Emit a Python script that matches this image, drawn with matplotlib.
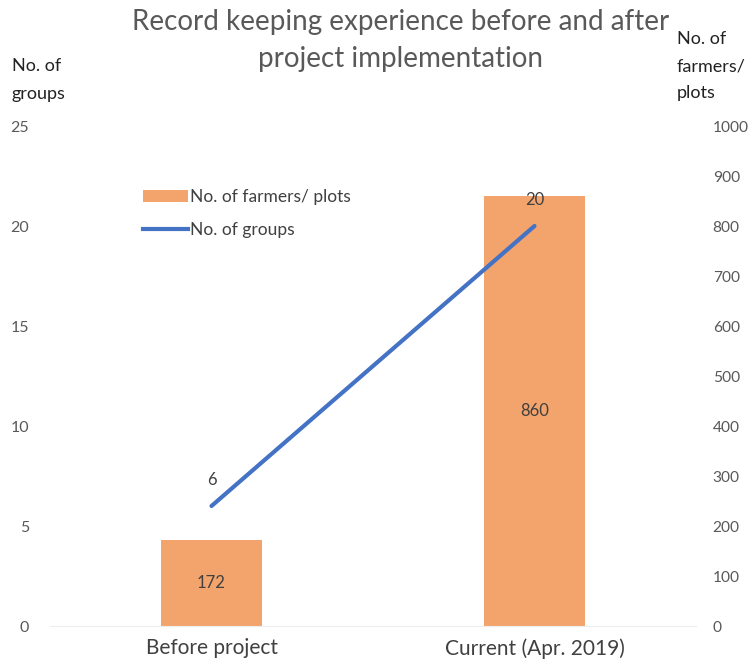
import matplotlib
matplotlib.use("Agg")
import matplotlib.pyplot as plt
from matplotlib.lines import Line2D
from matplotlib.patches import Patch

categories = ["Before project", "Current (Apr. 2019)"]
farmers_plots = [172, 860]
groups = [6, 20]
left_ticks = [0, 5, 10, 15, 20, 25]
right_ticks = [0, 100, 200, 300, 400, 500, 600, 700, 800, 900, 1000]

plt.rcParams['font.family'] = ['Lato', 'DejaVu Sans']
txt = '#595959'
bar_color = '#F2A46C'
line_color = '#4472C4'

fig = plt.figure(figsize=(7.52, 6.69), dpi=100)
ax = fig.add_axes([50/752, 43/669, 646/752, 500/669])
ax2 = ax.twinx()

x = list(range(len(categories)))
# bars on right axis
bars = ax2.bar(x, farmers_plots, width=0.31, color=bar_color, zorder=1)
ax2.set_ylim(0, 1000)
ax2.set_yticks(right_ticks)
for xi, v in zip(x, farmers_plots):
    ax2.text(xi, v / 2, str(v), ha='center', va='center', fontsize=12, color='#404040')

# line on left axis drawn above bars
ax.set_zorder(ax2.get_zorder() + 1)
ax.patch.set_visible(False)
ax.plot(x, groups, color=line_color, linewidth=3, solid_capstyle='round')
ax.set_ylim(0, 25)
ax.set_yticks(left_ticks)
ax.set_xlim(-0.5, 1.5)
ax.set_xticks(x)
ax.set_xticklabels(categories)
for xi, v in zip(x, groups):
    ax.text(xi, v + 0.9, str(v), ha='center', va='bottom', fontsize=12, color='#404040')

for a in (ax, ax2):
    for s in a.spines.values():
        s.set_visible(False)
    a.tick_params(length=0, labelsize=11.5, labelcolor=txt)
ax.spines['bottom'].set_visible(True)
ax.spines['bottom'].set_color('#EDEDED')
ax.tick_params(axis='y', pad=15)
ax2.tick_params(axis='y', pad=12, labelsize=11.2)
ax.tick_params(axis='x', pad=9, labelsize=15, labelcolor='#404040')

fig.text(401/752, 0.986, "Record keeping experience before and after\nproject implementation",
         ha='center', va='top', fontsize=20, color=txt, linespacing=1.5)
fig.text(12/752, 1 - 58/669, "No. of\ngroups", ha='left', va='top', fontsize=13, color='#222222', linespacing=1.95)
fig.text(677/752, 1 - 31/669, "No. of\nfarmers/\nplots", ha='left', va='top', fontsize=13, color='#222222', linespacing=1.85)

handles = [Patch(facecolor=bar_color, edgecolor='none'),
           Line2D([0], [0], color=line_color, linewidth=3)]
ax.legend(handles, ["No. of farmers/ plots", "No. of groups"], loc='upper left',
          bbox_to_anchor=(0.12, 0.905), frameon=False, fontsize=12.5, labelcolor='#404040',
          handlelength=2.6, handletextpad=0.1, labelspacing=1.0)

fig.savefig("out.png", dpi=100)
